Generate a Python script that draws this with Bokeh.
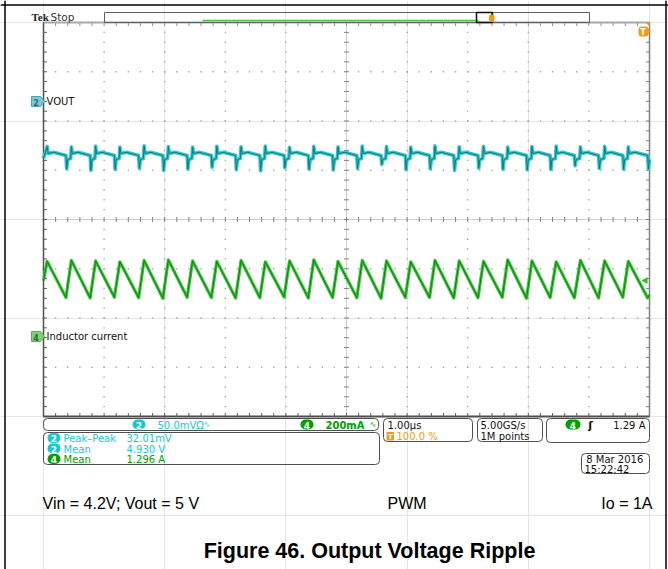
import numpy as np
from bokeh.plotting import figure
from bokeh.models import Range1d, Label, BoxAnnotation, Span
from bokeh.embed import file_html
from bokeh.resources import INLINE

# ---------------- data ----------------
# time base 1.00 us/div, trigger position 100 %  -> screen spans -10 .. 0 us
t_start = -10.0
t_end = 0.0

# CH4 inductor current (A), 200 mA/div
i_peak_t = [-9.94, -9.54, -9.14, -8.74, -8.34, -7.94, -7.54, -7.14, -6.74, -6.34,
            -5.94, -5.54, -5.14, -4.74, -4.34, -3.94, -3.54, -3.14, -2.74, -2.34,
            -1.94, -1.54, -1.14, -0.74, -0.35]
i_peak = [1.368, 1.372, 1.370, 1.366, 1.372, 1.374, 1.370, 1.368, 1.372, 1.366,
          1.370, 1.374, 1.368, 1.372, 1.370, 1.366, 1.372, 1.370, 1.368, 1.374,
          1.370, 1.366, 1.372, 1.370, 1.368]
i_valley_t = [-9.63, -9.23, -8.83, -8.43, -8.03, -7.63, -7.23, -6.83, -6.43, -6.03,
              -5.63, -5.23, -4.83, -4.43, -4.03, -3.63, -3.23, -2.83, -2.43, -2.03,
              -1.64, -1.24, -0.84, -0.44, -0.03]
i_valley = [1.221, 1.219, 1.222, 1.220, 1.218, 1.222, 1.221, 1.219, 1.220, 1.223,
            1.219, 1.221, 1.220, 1.218, 1.222, 1.221, 1.219, 1.220, 1.222, 1.218,
            1.221, 1.220, 1.219, 1.222, 1.219]
i_first = 1.289   # current at left screen edge (mid-rise)
i_last = 1.232    # current at right screen edge
trig_level = 1.29  # trigger level (A)

# CH2 output voltage (V), 50 mV/div
v_spike = [4.9412, 4.9408, 4.9415, 4.9405, 4.9418, 4.9410, 4.9406, 4.9414, 4.9409, 4.9416,
           4.9404, 4.9412, 4.9408, 4.9415, 4.9410, 4.9406, 4.9417, 4.9409, 4.9413, 4.9405,
           4.9411, 4.9416, 4.9408, 4.9412, 4.9407]
v_dip = [4.9185, 4.9170, 4.9178, 4.9190, 4.9168, 4.9182, 4.9200, 4.9175, 4.9165, 4.9195,
         4.9180, 4.9172, 4.9188, 4.9230, 4.9176, 4.9185, 4.9169, 4.9192, 4.9180, 4.9174,
         4.9177, 4.9215, 4.9188, 4.9180, 4.9183]
v_first = 4.9289
v_plateau = 4.9340
v_hump = 4.9352
v_predip = 4.9322
v_recover = 4.9279
v_prespike = 4.9289

# channel settings
CH2_SCALE, CH2_POS, CH2_OFFSET = 0.05, 2.4, 4.987
CH4_SCALE, CH4_POS, CH4_OFFSET = 0.2, -2.4, 1.058

# readouts
ch2_label = "VOUT"
ch4_label = "Inductor current"
meas_ch = ["2", "2", "4"]
meas_name = ["Peak\u2013Peak", "Mean", "Mean"]
meas_val = ["32.01mV", "4.930 V", "1.296 A"]
caption_left = "Vin = 4.2V; Vout = 5 V"
caption_mid = "PWM"
caption_right = "Io = 1A"
title = "Figure 46. Output Voltage Ripple"

# ---------------- page-pixel helpers (layout only) ----------------
PX0_X, PX_PER_US = 43.0, 60.6
PY0, PX_PER_DIV = 219.0, 49.25
W, H = 668, 569


def X(px):
    return t_start + (px - PX0_X) / PX_PER_US


def Y(py):
    return (PY0 - py) / PX_PER_DIV


ymin, ymax = Y(H), Y(0)
p = figure(width=W, height=H,
           x_range=Range1d(X(0), X(W)), y_range=Range1d(ymin, ymax),
           output_backend="svg", toolbar_location=None, min_border=0,
           x_axis_location=None, y_axis_location=None,
           background_fill_color="white", border_fill_color="white",
           outline_line_color=None)
p.extra_y_ranges = {
    "ch2": Range1d(CH2_OFFSET + (ymin - CH2_POS) * CH2_SCALE, CH2_OFFSET + (ymax - CH2_POS) * CH2_SCALE),
    "ch4": Range1d(CH4_OFFSET + (ymin - CH4_POS) * CH4_SCALE, CH4_OFFSET + (ymax - CH4_POS) * CH4_SCALE),
}

# ---------------- outer frame ----------------
for loc, dim in [(Y(4.5), "width"), (X(4.5), "height"), (X(665.5), "height")]:
    p.add_layout(Span(location=loc, dimension=dim, line_color="black", line_width=1.5))

# ---------------- graticule ----------------
minor_x = np.linspace(t_start, t_end, 51)
minor_y = np.linspace(-4, 4, 41)
major_x = [t_start + k for k in range(1, 10) if k != 5]
major_y = [k for k in range(-3, 4) if k != 0]
dots_x, dots_y = [], []
for mx in major_x:
    for my in minor_y:
        dots_x.append(mx); dots_y.append(my)
for my in major_y:
    for mx in minor_x:
        dots_x.append(mx); dots_y.append(my)
p.scatter(dots_x, dots_y, marker="square", size=1.4, fill_color="#a8a8a8", line_color=None)

xc = t_start + 5
p.segment([xc, t_start], [-4, 0], [xc, t_end], [4, 0], line_color="#cfcfcf", line_width=1)
tx_len = 2.5 / PX_PER_US
ty_len = 2.5 / PX_PER_DIV
# ticks on centre lines
p.segment([xc - tx_len] * len(minor_y), list(minor_y), [xc + tx_len] * len(minor_y), list(minor_y),
          line_color="#808080", line_width=1)
p.segment(list(minor_x), [-ty_len] * len(minor_x), list(minor_x), [ty_len] * len(minor_x),
          line_color="#808080", line_width=1)
# ticks on borders
e = 3.5
p.segment(list(minor_x), [4] * 51, list(minor_x), [4 - e / PX_PER_DIV] * 51, line_color="#909090")
p.segment(list(minor_x), [-4] * 51, list(minor_x), [-4 + e / PX_PER_DIV] * 51, line_color="#606060")
p.segment([t_start] * 41, list(minor_y), [t_start + e / PX_PER_US] * 41, list(minor_y), line_color="#606060")
p.segment([t_end] * 41, list(minor_y), [t_end - e / PX_PER_US] * 41, list(minor_y), line_color="#808080")
# borders
p.line([t_start, t_end], [4, 4], line_color="#a8a8a8", line_width=2)
p.line([t_start, t_end], [-4, -4], line_color="#505050", line_width=2)
p.line([t_start, t_start], [-4, 4], line_color="#505050", line_width=1.5)
p.line([t_end, t_end], [-4, 4], line_color="#808080", line_width=1.5)

# ---------------- traces ----------------
it = [t_start]
iv = [i_first]
for k in range(len(i_peak_t)):
    it += [i_peak_t[k], i_valley_t[k]]
    iv += [i_peak[k], i_valley[k]]
it.append(t_end)
iv.append(i_last)

vt = [t_start]
vv = [v_first]
for k in range(len(i_peak_t)):
    tp, tv = i_peak_t[k], i_valley_t[k]
    vt += [tp, tp + 0.015, tp + 0.11, tv - 0.015, tv, tv + 0.012, tv + 0.03]
    vv += [v_spike[k], v_plateau, v_hump, v_predip, v_predip, v_dip[k], v_recover]
    if k + 1 < len(i_peak_t):
        vt.append(i_peak_t[k + 1] - 0.012)
        vv.append(v_prespike)

p.line(vt, vv, y_range_name="ch2", line_color="#34c8cb", line_width=3.6, line_join="round")
p.line(vt, vv, y_range_name="ch2", line_color="#0e7a82", line_width=1)
p.line(it, iv, y_range_name="ch4", line_color="#3cc23c", line_width=3.2, line_join="round")
p.line(it, iv, y_range_name="ch4", line_color="#0b850b", line_width=1)

# trigger level marker (CH4, right edge)
p.scatter([X(645)], [trig_level], y_range_name="ch4", marker="triangle", angle=np.pi / 2,
          size=7, fill_color="#2fb52f", line_color=None)


# ---------------- text / decoration helpers ----------------
def label(px, py, text, size=10, color="#111111", font="DejaVu Sans", style="normal",
          align="left", baseline="middle"):
    p.add_layout(Label(x=X(px), y=Y(py), text=text, text_font_size=f"{size}px",
                       text_color=color, text_font=font, text_font_style=style,
                       text_align=align, text_baseline=baseline, level="overlay"))


def box(l, t, r, b, line="#404040", fill=None, radius=0, lw=1.0):
    p.add_layout(BoxAnnotation(left=X(l), right=X(r), top=Y(t), bottom=Y(b),
                               line_color=line, line_width=lw, line_alpha=1.0,
                               fill_color=fill, fill_alpha=1.0 if fill else 0.0,
                               border_radius=int(radius), level="annotation"))


def badge(cx, cy, text, fill, w=13, h=10):
    box(cx - w / 2, cy - h / 2, cx + w / 2, cy + h / 2, line=None, fill=fill, radius=5)
    label(cx, cy + 0.5, text, size=9, color="white", style="bold", align="center")


CYAN = "#19c9cf"
GREEN = "#00a000"
ORANGE = "#f39a14"

# top bar
label(31, 16, "Tek", size=11, font="Liberation Serif", style="bold", color="#222222")
label(50, 16, "Stop", size=10.5, color="#333333")
box(104, 12, 589, 22, line="#606060")
p.line([X(202), X(478)], [Y(20), Y(20)], line_color="#44c244", line_width=1.5)
box(476, 12, 492, 22, line="#111111", lw=1.5)
box(488.5, 14, 494, 21.5, line=None, fill=ORANGE, radius=2)
p.line([X(491), X(491)], [Y(13), Y(22)], line_color="#222222", line_width=1)

# trigger position marker top right
box(638, 26, 648, 36, line=None, fill=ORANGE, radius=3)
p.patch([X(647), X(650), X(647)], [Y(27.5), Y(31), Y(34.5)], fill_color=ORANGE, line_color=None)
label(642.5, 31.5, "T", size=8, color="white", style="bold", align="center")
p.patch([X(645), X(649), X(649)], [Y(22), Y(22), Y(26)], fill_color=ORANGE, line_color=None)

# channel markers
p.patch([X(31), X(40), X(44), X(40), X(31)], [Y(96), Y(96), Y(101), Y(106), Y(106)],
        fill_color="#7cc9d2", line_color="#4aa6b2")
label(35.5, 101.5, "2", size=8, color="#2c6d7a", style="bold", align="center")
label(46, 100.5, ch2_label, size=10)
p.patch([X(31), X(40), X(44), X(40), X(31)], [Y(331), Y(331), Y(336), Y(341), Y(341)],
        fill_color="#7fcf7f", line_color="#55b055")
label(35.5, 336.5, "4", size=8, color="#2e6e2e", style="bold", align="center")
label(46, 336, ch4_label, size=10)

# bottom info bar
box(43, 418, 378, 430, line="#505050", radius=4)
badge(138.5, 424, "2", CYAN)
label(157, 424.5, "50.0mV\u03a9", size=10, color=CYAN)
label(203, 424, "\u223f", size=8, color=CYAN)
badge(306.5, 424, "4", GREEN)
label(325, 424.5, "200mA", size=10, color=GREEN, style="bold")
label(369, 424, "\u223f", size=8, color=GREEN)

# measurement box
box(43, 432, 379, 464, line="#505050", radius=4)
rows_y = [437.5, 448, 458.5]
for k in range(3):
    col = CYAN if meas_ch[k] == "2" else GREEN
    badge(53.5, rows_y[k], meas_ch[k], col)
    label(63, rows_y[k] + 0.5, meas_name[k], size=10, color=col)
    label(126, rows_y[k] + 0.5, meas_val[k], size=10, color=col)

# timebase box
box(383, 418, 472, 441, line="#505050", radius=4)
label(387, 424.5, "1.00\u00b5s", size=10)
box(386, 431.5, 393.5, 440, line=None, fill=ORANGE, radius=1)
label(389.8, 436, "T", size=7, color="white", style="bold", align="center")
label(396, 436, "100.0 %", size=10, color=ORANGE)

# acquisition box
box(477, 418, 542, 441, line="#505050", radius=4)
label(480, 424.5, "5.00GS/s", size=10)
label(480, 436, "1M points", size=10)

# trigger box
box(546, 418, 649, 442, line="#505050", radius=4)
badge(572.5, 424, "4", GREEN, w=15)
label(590, 424.5, "\u0283", size=11, style="bold", align="center")
label(645, 424.5, "1.29 A", size=10, align="right")

# date box
box(581, 453, 649, 473, line="#505050", radius=4)
label(646, 458.5, "8 Mar  2016", size=10, align="right")
label(584, 468.5, "15:22:42", size=10)

# captions
CAP = "Liberation Sans"
label(42, 503, caption_left, size=16, font=CAP, color="black", baseline="alphabetic")
label(387, 503, caption_mid, size=16, font=CAP, color="black", baseline="alphabetic")
label(652, 503, caption_right, size=16, font=CAP, color="black", align="right", baseline="alphabetic")
label(369, 550, title, size=21.5, font=CAP, style="bold", color="black", align="center",
      baseline="alphabetic")

open("out.html", "w").write(file_html(p, INLINE))
